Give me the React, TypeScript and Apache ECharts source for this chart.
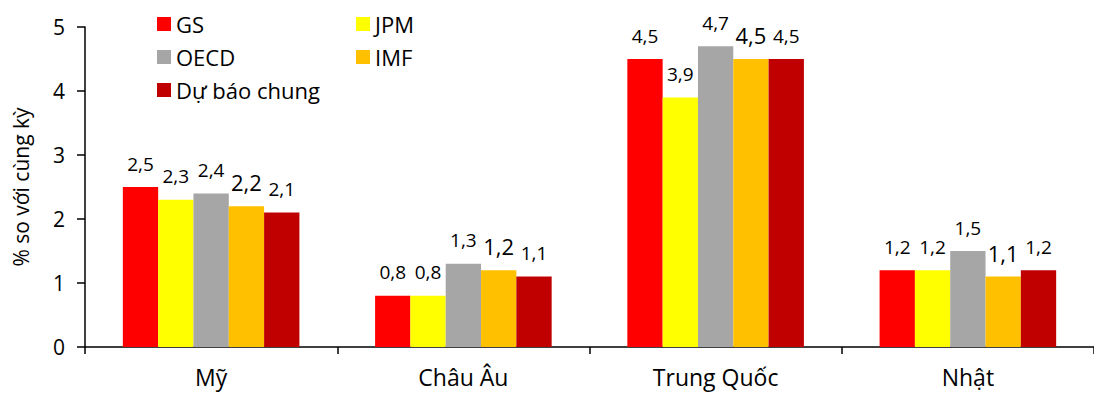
import React, { useEffect, useRef } from "react";
import * as echarts from "echarts";

const categories = ["Mỹ", "Châu Âu", "Trung Quốc", "Nhật"];
const seriesNames = ["GS", "JPM", "OECD", "IMF", "Dự báo chung"];
const gsValues = [2.5, 0.8, 4.5, 1.2];
const jpmValues = [2.3, 0.8, 3.9, 1.2];
const oecdValues = [2.4, 1.3, 4.7, 1.5];
const imfValues = [2.2, 1.2, 4.5, 1.1];
const dubaoValues = [2.1, 1.1, 4.5, 1.2];
const yTicks = [0, 1, 2, 3, 4, 5];

const colors = ["#FF0000", "#FFFF00", "#A6A6A6", "#FFC000", "#C00000"];
const FONT = "'Open Sans', 'Noto Sans', sans-serif";

export default function App() {
  const ref = useRef<HTMLDivElement>(null);
  useEffect(() => {
    document.body.style.margin = "0";
    const chart = echarts.init(ref.current!, undefined, { renderer: "svg" });
    const allValues = [gsValues, jpmValues, oecdValues, imfValues, dubaoValues];
    const fmt = (p: any) => String(p.value).replace(".", ",");
    const legendText = { fontSize: 22, color: "#000", lineHeight: 22, fontFamily: FONT };
    chart.setOption({
      animation: false,
      textStyle: { fontFamily: FONT },
      grid: { left: 85, top: 27, width: 1010, height: 320 },
      legend: [
        {
          data: [seriesNames[0], seriesNames[2], seriesNames[4]],
          orient: "vertical",
          left: 152,
          top: 8,
          itemWidth: 14,
          itemHeight: 14,
          itemGap: 11,
          icon: "rect",
          textStyle: legendText,
        },
        {
          data: [seriesNames[1], seriesNames[3]],
          orient: "vertical",
          left: 351,
          top: 8,
          itemWidth: 14,
          itemHeight: 14,
          itemGap: 11,
          icon: "rect",
          textStyle: legendText,
        },
      ],
      xAxis: {
        type: "category",
        data: categories,
        axisLine: { lineStyle: { color: "#000", width: 1.5 } },
        axisTick: { show: true, length: 7, lineStyle: { color: "#000", width: 1.5 } },
        axisLabel: { fontSize: 23, color: "#000", margin: 18, fontFamily: FONT },
      },
      yAxis: {
        type: "value",
        min: 0,
        max: 5,
        interval: 1,
        name: "% so với cùng kỳ",
        nameLocation: "middle",
        nameGap: 54,
        nameTextStyle: { fontSize: 21, color: "#000", fontFamily: FONT },
        axisLine: { show: true, lineStyle: { color: "#000", width: 1.5 } },
        axisTick: { show: true, length: 8, lineStyle: { color: "#000", width: 1.5 } },
        axisLabel: {
          fontSize: 21,
          color: "#000",
          margin: 20,
          fontFamily: FONT,
          formatter: (v: number) => (yTicks.includes(v) ? String(v) : ""),
        },
        splitLine: { show: false },
      },
      series: seriesNames.map((name, i) => ({
        name,
        type: "bar",
        data: allValues[i],
        barGap: "0%",
        barCategoryGap: "30%",
        itemStyle: { color: colors[i] },
        label: {
          show: true,
          position: "top",
          distance: i === 3 ? 13 : 14,
          fontSize: i === 3 ? 22 : 19,
          lineHeight: i === 3 ? 22 : 19,
          color: "#000",
          fontFamily: FONT,
          formatter: fmt,
        },
      })),
    });
    return () => chart.dispose();
  }, []);
  return <div ref={ref} style={{ width: 1094, height: 398 }} />;
}
